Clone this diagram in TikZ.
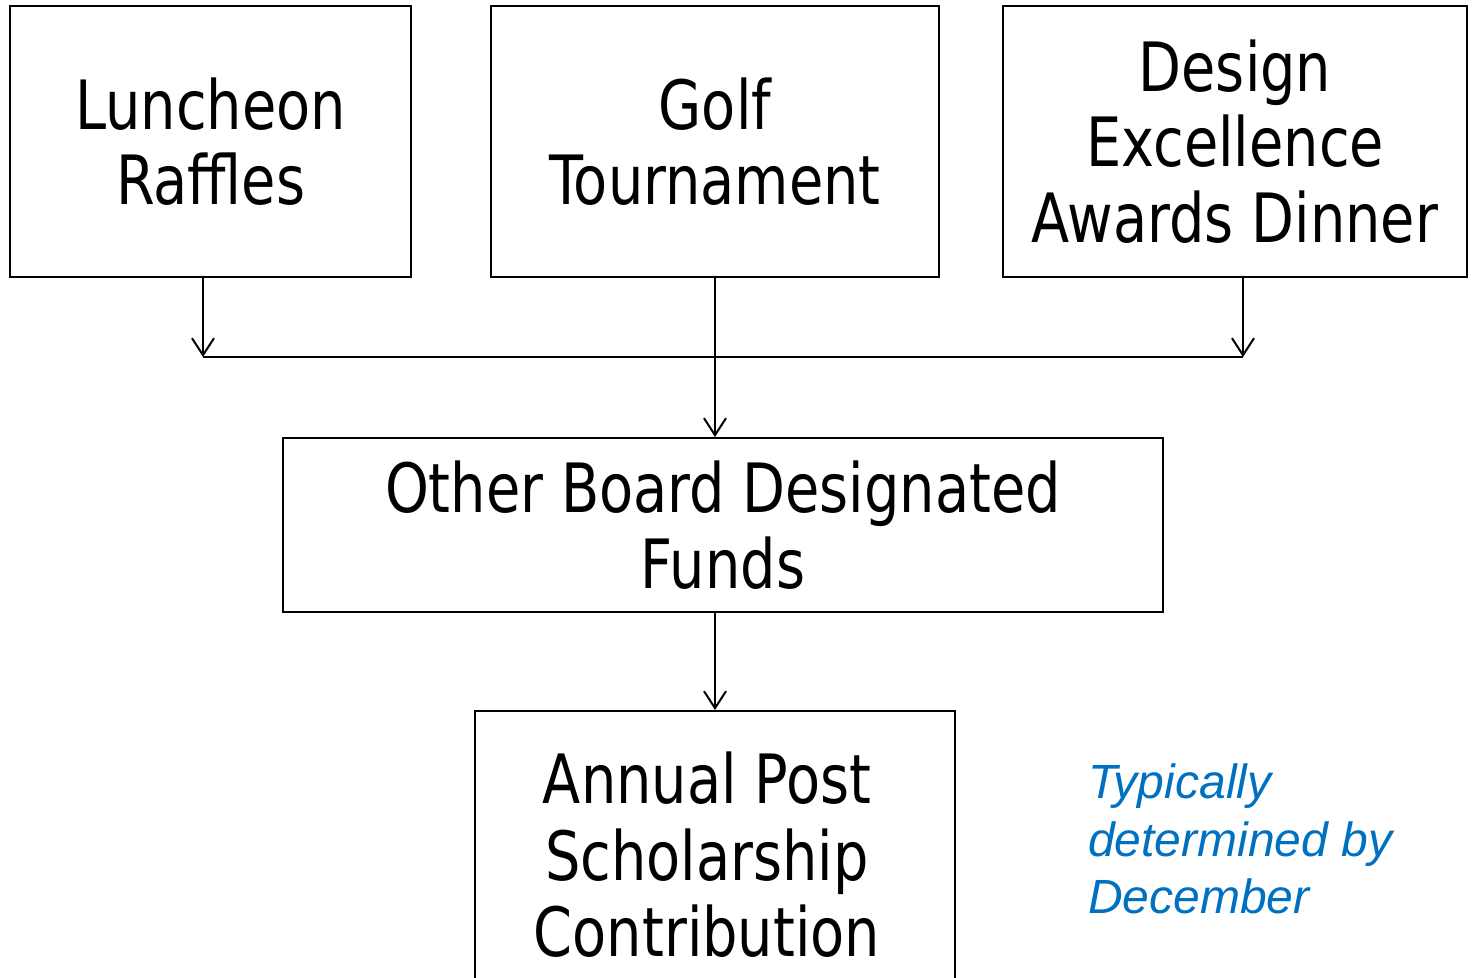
\documentclass[tikz,border=0pt]{standalone}
\usepackage{fontspec}
\setmainfont{DejaVu Sans}[FakeStretch=0.82]
\newfontfamily\notefont{Liberation Sans}
\usetikzlibrary{arrows.meta}
\definecolor{noteblue}{HTML}{0070C0}
\begin{document}
\begin{tikzpicture}[x=1pt,y=-1pt,
  box/.style={draw, line width=2pt, rectangle, inner sep=0pt, align=center,
    font=\fontsize{68}{75.5}\selectfont},
  conn/.style={line width=2pt, -{Straight Barb[length=17pt,width=22pt,line width=2pt]}},
  plain/.style={line width=2pt}]
\useasboundingbox (0,0) rectangle (1472,977);
\node[box, minimum width=401pt, minimum height=271pt] (lunch) at (210.5,141.5) {Luncheon\\Raffles};
\node[box, minimum width=448pt, minimum height=271pt] (golf) at (715,141.5) {Golf\\Tournament};
\node[box, minimum width=464pt, minimum height=271pt] (design) at (1235,141.5) {Design\\Excellence\\Awards Dinner};
\node[box, minimum width=880pt, minimum height=174pt] (other) at (723,525) {Other Board Designated\\Funds};
\node[box, minimum width=480pt, minimum height=340pt, anchor=north] (annual) at (715,710) {};
\node[align=center, inner sep=0pt, font=\fontsize{68}{76.5}\selectfont] (annualtext) at (707,855) {Annual Post\\Scholarship\\Contribution};
\node[align=left, anchor=north west, inner sep=0pt, text=noteblue,
  font=\notefont\itshape\fontsize{48}{57.5}\selectfont] (note) at (1088,764) {Typically\\determined by\\December};
\coordinate (jl) at (lunch.south |- 0,357);
\coordinate (jr) at (1243,357);
\coordinate (dtop) at (1243,277);
\draw[conn] (lunch.south -| 203,0) -- (jl -| 203,0);
\draw[conn] (dtop) -- (jr);
\draw[plain] (jl -| 203,0) -- (jr);
\draw[conn] (golf.south) -- (other.north -| golf.south);
\draw[conn] (other.south -| annual.north) -- (annual.north);
\end{tikzpicture}
\end{document}
